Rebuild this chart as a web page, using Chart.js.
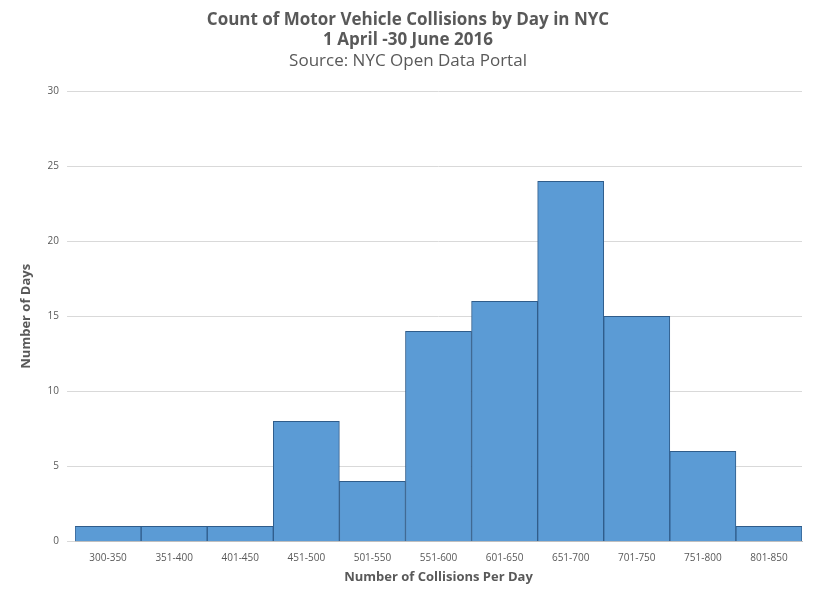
<!DOCTYPE html>
<html><head><script src="https://cdn.jsdelivr.net/npm/chart.js"></script>
<style>body{margin:0;background:#fff}#w{width:816px;height:601px}</style></head>
<body><div id="w"><canvas id="c"></canvas></div>
<script>
const categories=["300-350","351-400","401-450","451-500","501-550","551-600","601-650","651-700","701-750","751-800","801-850"];
const days=[1,1,1,8,4,14,16,24,15,6,1];
const yTicks=[0,5,10,15,20,25,30];
new Chart(document.getElementById('c'),{type:'bar',
data:{labels:categories,datasets:[{data:days,backgroundColor:'#5B9BD5',borderColor:'#2F5C8A',borderWidth:1,barPercentage:1,categoryPercentage:1}]},
options:{responsive:true,maintainAspectRatio:false,animation:false,
layout:{padding:{left:14,right:14,top:6,bottom:12}},
plugins:{legend:{display:false},tooltip:{enabled:false},
title:{display:true,text:['Count of Motor Vehicle Collisions by Day in NYC','1 April -30 June 2016'],color:'#595959',font:{family:'Open Sans',size:17,weight:'bold'},padding:{top:4,bottom:0},lineHeight:1.4},
subtitle:{display:true,text:'Source: NYC Open Data Portal',color:'#595959',font:{family:'Open Sans',size:17},padding:{top:0,bottom:20}}},
scales:{
x:{grid:{display:false},border:{color:'#bfbfbf'},ticks:{color:'#595959',font:{family:'Open Sans',size:10},maxRotation:0},
title:{display:true,text:'Number of Collisions Per Day',color:'#595959',font:{family:'Open Sans',size:13,weight:'bold'},padding:{top:2}}},
y:{min:0,max:30,afterBuildTicks:a=>{a.ticks=yTicks.map(v=>({value:v}));},grid:{color:'#d9d9d9'},border:{display:false},ticks:{color:'#595959',font:{family:'Open Sans',size:10},padding:8},
title:{display:true,text:'Number of Days',color:'#595959',font:{family:'Open Sans',size:13,weight:'bold'},padding:{bottom:6}}}}}});
</script></body></html>
